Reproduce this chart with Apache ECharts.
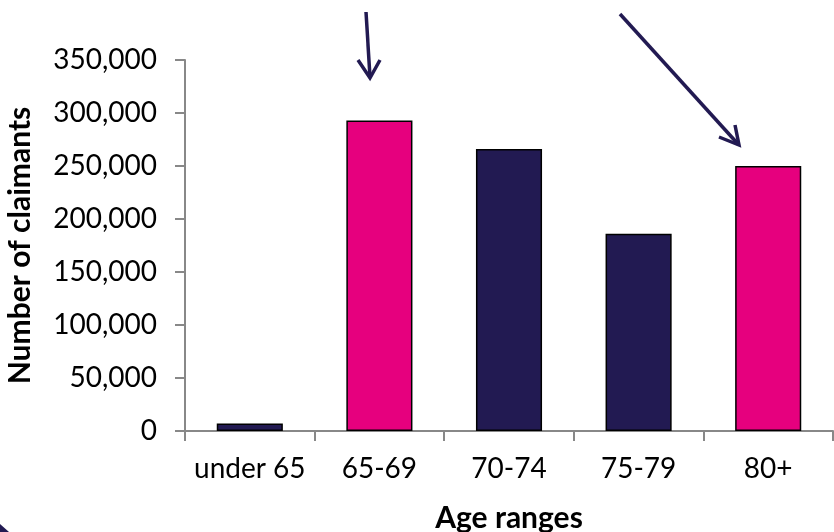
<!DOCTYPE html>
<html>
<head>
<meta charset="utf-8">
<script src="https://cdn.jsdelivr.net/npm/echarts@6/dist/echarts.min.js"></script>
<style>
html,body{margin:0;padding:0;background:#fff;}
#chart{width:834px;height:532px;}
</style>
</head>
<body>
<div id="chart"></div>
<script>
const categories = ['under 65', '65-69', '70-74', '75-79', '80+'];
const claimants = [7000, 293000, 266000, 186000, 250000];
const highlighted = [false, true, false, false, true];
const yTicks = { min: 0, max: 350000, interval: 50000 };

const NAVY = '#221a52';
const MAGENTA = '#e6007e';
const FONT = 'Lato';

const chart = echarts.init(document.getElementById('chart'), null, { renderer: 'canvas' });
chart.setOption({
  backgroundColor: '#ffffff',
  animation: false,
  grid: { left: 185, right: 1, top: 60, bottom: 101, containLabel: false, outerBoundsMode: 'none' },
  xAxis: {
    type: 'category',
    data: categories,
    name: 'Age ranges',
    nameLocation: 'middle',
    nameGap: 72,
    nameTextStyle: { fontFamily: FONT, fontWeight: 'bold', fontSize: 30, color: '#000' },
    axisLine: { lineStyle: { color: '#888', width: 2 } },
    axisTick: { show: true, length: 10, alignWithLabel: false, lineStyle: { color: '#888', width: 2 } },
    axisLabel: { interval: 0, fontFamily: FONT, fontSize: 28, color: '#000', margin: 24 }
  },
  yAxis: {
    type: 'value',
    min: yTicks.min,
    max: yTicks.max,
    interval: yTicks.interval,
    name: 'Number of claimants',
    nameLocation: 'middle',
    nameGap: 150,
    nameTextStyle: { fontFamily: FONT, fontWeight: 'bold', fontSize: 30, color: '#000' },
    axisLine: { show: true, lineStyle: { color: '#888', width: 2 } },
    axisTick: { show: true, length: 10, lineStyle: { color: '#888', width: 2 } },
    splitLine: { show: false },
    axisLabel: {
      fontFamily: FONT, fontSize: 28, color: '#000', margin: 28,
      formatter: v => v.toLocaleString('en-US')
    }
  },
  series: [{
    type: 'bar',
    barWidth: '51%',
    data: claimants.map((v, i) => ({
      value: v,
      itemStyle: { color: highlighted[i] ? MAGENTA : NAVY }
    })),
    itemStyle: { borderColor: '#000', borderWidth: 1.5 }
  }],
  graphic: [
    { type: 'line', shape: { x1: 366, y1: 12, x2: 370, y2: 77 }, style: { stroke: NAVY, lineWidth: 3.5 } },
    { type: 'polyline', shape: { points: [[358, 60], [370, 78], [380, 60]] }, style: { stroke: NAVY, lineWidth: 3.5, fill: null } },
    { type: 'line', shape: { x1: 620, y1: 14, x2: 738, y2: 144 }, style: { stroke: NAVY, lineWidth: 3.5 } },
    { type: 'polyline', shape: { points: [[719, 137], [739, 145], [735, 125]] }, style: { stroke: NAVY, lineWidth: 3.5, fill: null } },
    { type: 'polygon', shape: { points: [[0, 524], [9, 532], [0, 532]] }, style: { fill: NAVY } }
  ]
});
</script>
</body>
</html>
